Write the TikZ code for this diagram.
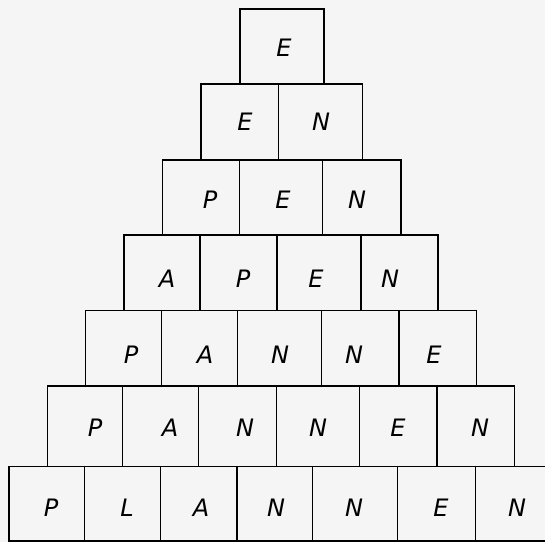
\documentclass[tikz,border=0pt]{standalone}
\usepackage{fontspec}
\newfontfamily\hand{DejaVu Sans}
\begin{document}
\begin{tikzpicture}[x=1pt,y=-1pt,
  box/.style={draw=black,line width=1.4pt},
  letter/.style={font=\hand\itshape\fontsize{24}{24}\selectfont,inner sep=0pt,text=black}]
\fill[black!4] (0,0) rectangle (545,542);
\useasboundingbox (0,0) rectangle (545,542);
% row 1
\draw[box] (240,9) rectangle (324,84);
% row 2
\foreach \a/\b in {201/278.7,278.7/362.3} \draw[box] (\a,84) rectangle (\b,160);
% row 3
\foreach \a/\b in {162.7/239.3,239.3/322.7,322.7/401} \draw[box] (\a,160) rectangle (\b,235);
% row 4
\foreach \a/\b in {124/200,200/277,277/361,361/438} \draw[box] (\a,235) rectangle (\b,310.5);
% row 5
\foreach \a/\b in {85.5/161.5,161.5/237.7,237.7/321.5,321.5/399,399/476.5} \draw[box] (\a,310.5) rectangle (\b,386);
% row 6
\foreach \a/\b in {47.3/122.7,122.7/198.5,198.5/276.3,276.3/359.4,359.4/437,437/514.4} \draw[box] (\a,386) rectangle (\b,466.5);
% row 7
\foreach \a/\b in {9/84.5,84.5/160.5,160.5/237,237/312.5,312.5/397.5,397.5/475.5} \draw[box] (\a,466.5) rectangle (\b,541);
\draw[box] (475.5,466.5) -- (546,466.5);
\draw[box] (475.5,541) -- (546,541);
% letters
\node[letter] (r1c1) at (284,48) {E};
\node[letter] (r2c1) at (245,122) {E};
\node[letter] (r2c2) at (321,122) {N};
\node[letter] (r3c1) at (210,200) {P};
\node[letter] (r3c2) at (283,200) {E};
\node[letter] (r3c3) at (357,200) {N};
\node[letter] (r4c1) at (167,279) {A};
\node[letter] (r4c2) at (243,279) {P};
\node[letter] (r4c3) at (316,279) {E};
\node[letter] (r4c4) at (390,279) {N};
\node[letter] (r5c1) at (131,355) {P};
\node[letter] (r5c2) at (205,355) {A};
\node[letter] (r5c3) at (280,355) {N};
\node[letter] (r5c4) at (354,355) {N};
\node[letter] (r5c5) at (434,355) {E};
\node[letter] (r6c1) at (95,428) {P};
\node[letter] (r6c2) at (170,428) {A};
\node[letter] (r6c3) at (245,428) {N};
\node[letter] (r6c4) at (318,428) {N};
\node[letter] (r6c5) at (398,428) {E};
\node[letter] (r6c6) at (480,428) {N};
\node[letter] (r7c1) at (51,508) {P};
\node[letter] (r7c2) at (127,508) {L};
\node[letter] (r7c3) at (201,508) {A};
\node[letter] (r7c4) at (276,508) {N};
\node[letter] (r7c5) at (354,508) {N};
\node[letter] (r7c6) at (441,508) {E};
\node[letter] (r7c7) at (517,508) {N};
\end{tikzpicture}
\end{document}
